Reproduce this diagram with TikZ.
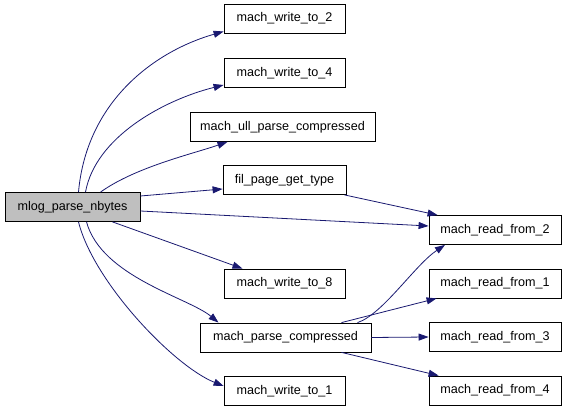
\documentclass[tikz,border=0pt]{standalone}
\usepackage{fontspec}
\setmainfont{Liberation Sans}
\usetikzlibrary{arrows.meta}
\definecolor{edgeblue}{HTML}{191970}
\definecolor{rootgray}{HTML}{BFBFBF}
\begin{document}
\begin{tikzpicture}[x=1pt,y=-1pt,
    fn/.style={draw=black, line width=0.8pt, fill=white, rectangle, inner sep=0pt,
        minimum height=29pt, font=\fontsize{12.6}{14}\selectfont},
    root/.style={fn, fill=rootgray},
    call/.style={draw=edgeblue, line width=0.8pt, -{Triangle[length=10pt,width=7pt]}}]
    \useasboundingbox (0,0) rectangle (568,411);
    % caller
    \node[root, minimum width=135pt] (mlog) at (72.5,207) {mlog\_parse\_nbytes};
    % callees
    \node[fn, minimum width=121pt] (w2) at (284.5,18.5) {mach\_write\_to\_2};
    \node[fn, minimum width=121pt] (w4) at (284.5,73) {mach\_write\_to\_4};
    \node[fn, minimum width=185pt] (ull) at (282.5,127) {mach\_ull\_parse\_compressed};
    \node[fn, minimum width=123pt] (fil) at (284.5,180) {fil\_page\_get\_type};
    \node[fn, minimum width=121pt] (w8) at (284.5,283.5) {mach\_write\_to\_8};
    \node[fn, minimum width=171pt] (pc) at (285.5,337.5) {mach\_parse\_compressed};
    \node[fn, minimum width=121pt] (w1) at (284.5,391) {mach\_write\_to\_1};
    \node[fn, minimum width=132pt] (r2) at (495,230) {mach\_read\_from\_2};
    \node[fn, minimum width=132pt] (r1) at (495,283.5) {mach\_read\_from\_1};
    \node[fn, minimum width=132pt] (r3) at (495,337) {mach\_read\_from\_3};
    \node[fn, minimum width=132pt] (r4) at (495,390.5) {mach\_read\_from\_4};
    % calls from mlog_parse_nbytes
    \draw[call] ([xshift=6]mlog.north) .. controls +(8,-90) and +(-70,20) .. ([yshift=-13]w2.west);
    \draw[call] ([xshift=13]mlog.north) .. controls +(10,-55) and +(-60,15) .. ([yshift=-12]w4.west);
    \draw[call] ([xshift=28]mlog.north) .. controls +(35,-25) and +(-35,12) .. ([xshift=-55]ull.south);
    \draw[call] ([yshift=11]mlog.east) -- ([yshift=-9]fil.west);
    \draw[call] ([yshift=-4]mlog.east) -- ([yshift=4]r2.west);
    \draw[call] ([xshift=40]mlog.south) -- ([xshift=-42]w8.north);
    \draw[call] ([xshift=14]mlog.south) .. controls +(15,55) and +(-30,-25) .. ([xshift=-67]pc.north);
    \draw[call] ([xshift=6]mlog.south) .. controls +(15,60) and +(-50,-20) .. ([yshift=5]w1.west);
    % calls from fil_page_get_type and mach_parse_compressed
    \draw[call] ([xshift=-2]fil.south east) -- ([xshift=9]r2.north west);
    \draw[call] ([xshift=72]pc.north) .. controls +(25,-8) and +(-30,20) .. ([xshift=-50]r2.south);
    \draw[call] ([xshift=56]pc.north) -- ([xshift=8]r1.south west);
    \draw[call] (pc.east) -- (r3.west);
    \draw[call] ([xshift=56]pc.south) -- ([xshift=10]r4.north west);
\end{tikzpicture}
\end{document}
